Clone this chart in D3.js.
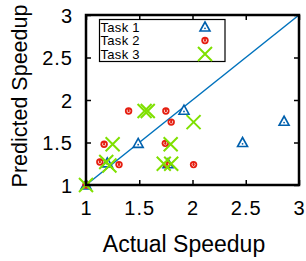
<!DOCTYPE html>
<html>
<head>
<meta charset="utf-8">
<script src="https://cdn.jsdelivr.net/npm/d3@7"></script>
<style>
  body { margin: 0; background: #fff; }
  text { font-family: "Liberation Sans", Arial, sans-serif; }
</style>
</head>
<body>
<script>
// values
var seriesNames = ["Task 1", "Task 2", "Task 3"];
var task1X = [1.0, 1.20, 1.49, 1.77, 1.92, 2.47, 2.86];
var task1Y = [1.0, 1.26, 1.49, 1.25, 1.88, 1.50, 1.75];
var task2X = [1.0, 1.13, 1.31, 1.17, 1.40, 1.75, 1.80, 1.745, 1.76, 2.01];
var task2Y = [1.0, 1.27, 1.24, 1.48, 1.87, 1.87, 1.74, 1.49, 1.24, 1.24];
var task3X = [1.0, 1.19, 1.22, 1.25, 1.55, 1.58, 1.73, 1.80, 1.795, 2.01];
var task3Y = [1.0, 1.27, 1.23, 1.48, 1.87, 1.87, 1.25, 1.25, 1.48, 1.74];
var tickValues = [1, 1.5, 2, 2.5, 3];

var width = 306, height = 261;
var margin = {top: 15, right: 7, bottom: 76, left: 86};

var svg = d3.select("body").append("svg")
    .attr("width", width)
    .attr("height", height);

var x = d3.scaleLinear().domain([1, 3]).range([margin.left, width - margin.right]);
var y = d3.scaleLinear().domain([1, 3]).range([height - margin.bottom, margin.top]);

var blue = "#0060ad", red = "#e51e10", green = "#7fe000";

// diagonal
svg.append("line")
    .attr("x1", x(1)).attr("y1", y(1))
    .attr("x2", x(3)).attr("y2", y(3))
    .attr("stroke", "#0072bd").attr("stroke-width", 1.5);

// inward ticks on all sides
var axisB = d3.axisBottom(x).tickValues(tickValues).tickSizeInner(-5).tickSizeOuter(0).tickFormat(d3.format("~g"));
var axisT = d3.axisTop(x).tickValues(tickValues).tickSizeInner(-5).tickSizeOuter(0).tickFormat("");
var axisL = d3.axisLeft(y).tickValues(tickValues).tickSizeInner(-5).tickSizeOuter(0).tickFormat(d3.format("~g"));
var axisR = d3.axisRight(y).tickValues(tickValues).tickSizeInner(-5).tickSizeOuter(0).tickFormat("");

function styleAxis(g) {
    g.select(".domain").remove();
    g.selectAll(".tick line").attr("stroke", "#000").attr("stroke-width", 1.5);
    g.selectAll(".tick text").attr("fill", "#000").style("font-size", "20px").style("letter-spacing", "1px");
}

svg.append("g").attr("transform", "translate(0," + y(1) + ")").call(axisB).call(styleAxis)
    .selectAll(".tick text").attr("dy", 0).attr("y", 30);
svg.append("g").attr("transform", "translate(0," + y(3) + ")").call(axisT).call(styleAxis);
svg.append("g").attr("transform", "translate(" + x(1) + ",0)").call(axisL).call(styleAxis)
    .selectAll(".tick text").attr("x", -13).attr("dy", "0.36em");
svg.append("g").attr("transform", "translate(" + x(3) + ",0)").call(axisR).call(styleAxis);

// markers
function drawTriangle(g, cx, cy) {
    var s = 5;
    g.append("path")
        .attr("d", "M" + cx + "," + (cy - s) + "L" + (cx + s) + "," + (cy + s * 0.8) + "L" + (cx - s) + "," + (cy + s * 0.8) + "Z")
        .attr("fill", "#fff").attr("stroke", blue).attr("stroke-width", 1.6);
    g.append("circle").attr("cx", cx).attr("cy", cy + 1.3).attr("r", 0.9).attr("fill", blue);
}
function drawCircle(g, cx, cy) {
    g.append("circle").attr("cx", cx).attr("cy", cy).attr("r", 3.7).attr("fill", red);
    g.append("path")
        .attr("d", d3.arc()({innerRadius: 1.2, outerRadius: 1.9, startAngle: 0.6, endAngle: 2 * Math.PI - 0.6}))
        .attr("transform", "translate(" + cx + "," + cy + ")")
        .attr("fill", "#fff");
}
function drawCross(g, cx, cy) {
    var s = 7;
    g.append("path")
        .attr("d", "M" + (cx - s) + "," + (cy - s) + "L" + (cx + s) + "," + (cy + s) +
                   "M" + (cx - s) + "," + (cy + s) + "L" + (cx + s) + "," + (cy - s))
        .attr("stroke", green).attr("stroke-width", 2).attr("fill", "none");
}

var pts = svg.append("g");
task1X.forEach(function (v, i) { drawTriangle(pts, x(v), y(task1Y[i])); });
task2X.forEach(function (v, i) { drawCircle(pts, x(v), y(task2Y[i])); });
task3X.forEach(function (v, i) { drawCross(pts, x(v), y(task3Y[i])); });

// frame
svg.append("rect")
    .attr("x", x(1)).attr("y", y(3))
    .attr("width", x(3) - x(1)).attr("height", y(1) - y(3))
    .attr("fill", "none").attr("stroke", "#000").attr("stroke-width", 2.5);

// legend
var leg = svg.append("g");
leg.append("rect")
    .attr("x", 99.5).attr("y", 19.5).attr("width", 125.5).attr("height", 42)
    .attr("fill", "#fff").attr("stroke", "#000").attr("stroke-width", 1.2);
var markers = [drawTriangle, drawCircle, drawCross];
seriesNames.forEach(function (name, i) {
    var cy = 27 + i * 13.5;
    leg.append("text")
        .attr("x", 100.5).attr("y", cy + 4.8)
        .style("font-size", "13px").style("letter-spacing", "0.3px").attr("fill", "#000")
        .text(name);
    markers[i](leg, 205, cy);
});

// axis labels
svg.append("text")
    .attr("x", 184).attr("y", 252)
    .attr("text-anchor", "middle").style("font-size", "23px").attr("fill", "#000")
    .text("Actual Speedup");
svg.append("text")
    .attr("transform", "translate(27,96) rotate(-90)")
    .attr("text-anchor", "middle").style("font-size", "21.5px").attr("fill", "#000")
    .text("Predicted Speedup");
</script>
</body>
</html>
